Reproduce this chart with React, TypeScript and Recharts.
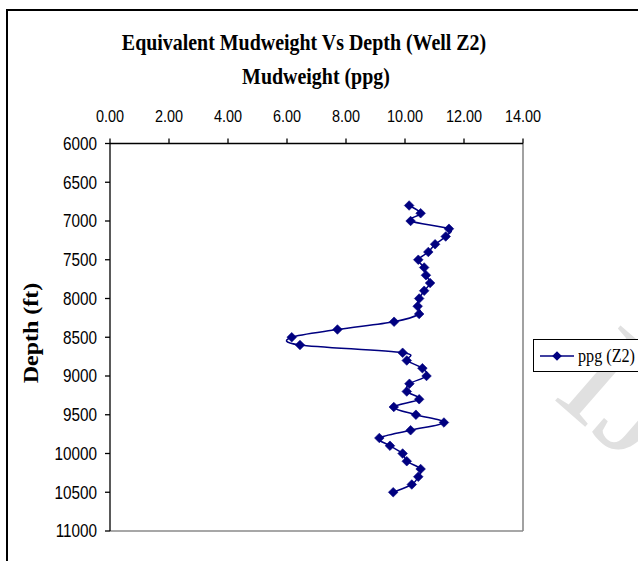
import React from 'react';
import { LineChart, Line, XAxis, YAxis, Legend, ReferenceLine } from 'recharts';

// Depth (ft) of each reading
const depthFt = [
  6800, 6900, 7000, 7100, 7200, 7300, 7400, 7500, 7600, 7700,
  7800, 7900, 8000, 8100, 8200, 8300, 8400, 8500, 8600, 8700,
  8800, 8900, 9000, 9100, 9200, 9300, 9400, 9500, 9600, 9700,
  9800, 9900, 10000, 10100, 10200, 10300, 10400, 10500,
];

// Equivalent mudweight (ppg), well Z2
const mudweightPpg = [
  10.14, 10.53, 10.19, 11.49, 11.38, 11.02, 10.79, 10.45, 10.65, 10.71,
  10.85, 10.65, 10.48, 10.43, 10.48, 9.63, 7.71, 6.16, 6.44, 9.92,
  10.06, 10.59, 10.73, 10.15, 10.06, 10.48, 9.62, 10.37, 11.32, 10.19,
  9.13, 9.49, 9.92, 10.06, 10.53, 10.45, 10.23, 9.6,
];

const mudweightTicks = [0, 2, 4, 6, 8, 10, 12, 14];
const depthTicks = [6000, 6500, 7000, 7500, 8000, 8500, 9000, 9500, 10000, 10500, 11000];

const seriesName = 'ppg (Z2)';
const chartTitle = 'Equivalent Mudweight Vs Depth (Well Z2)';
const xTitle = 'Mudweight (ppg)';
const yTitle = 'Depth (ft)';
const watermark = 'IJSER';

const data = depthFt.map((d, i) => ({ depth: d, ppg: mudweightPpg[i] }));

const NAVY = '#000080';
const SERIF = "'Liberation Serif', 'Times New Roman', serif";
const SANS = "'Liberation Sans', Arial, sans-serif";

// Excel-like smooth curve (Catmull-Rom through points)
function excelSmooth(context: any) {
  let pts: number[][] = [];
  return {
    areaStart() {},
    areaEnd() {},
    lineStart() {
      pts = [];
    },
    lineEnd() {
      if (!pts.length) return;
      context.moveTo(pts[0][0], pts[0][1]);
      for (let i = 0; i < pts.length - 1; i++) {
        const p0 = pts[i - 1] || pts[i];
        const p1 = pts[i];
        const p2 = pts[i + 1];
        const p3 = pts[i + 2] || p2;
        context.bezierCurveTo(
          p1[0] + (p2[0] - p0[0]) / 6,
          p1[1] + (p2[1] - p0[1]) / 6,
          p2[0] - (p3[0] - p1[0]) / 6,
          p2[1] - (p3[1] - p1[1]) / 6,
          p2[0],
          p2[1]
        );
      }
    },
    point(x: number, y: number) {
      pts.push([+x, +y]);
    },
  };
}

const Diamond = (props: any) => {
  const { cx, cy, index } = props;
  if (cx == null || cy == null) return <g key={`d-${index}`} />;
  const r = 4.8;
  return (
    <polygon
      key={`d-${index}`}
      points={`${cx},${cy - r} ${cx + r},${cy} ${cx},${cy + r} ${cx - r},${cy}`}
      fill={NAVY}
      stroke={NAVY}
      strokeWidth={0.6}
    />
  );
};

const XTick = (props: any) => {
  const { x, y, payload } = props;
  return (
    <g transform={`translate(${x},${y})`}>
      <text transform="scale(0.85,1)" textAnchor="middle" fontFamily={SANS} fontSize={17} fill="#000">
        {Number(payload.value).toFixed(2)}
      </text>
    </g>
  );
};

const YTick = (props: any) => {
  const { x, y, payload } = props;
  return (
    <g transform={`translate(${x},${y})`}>
      <text transform="scale(0.85,1)" textAnchor="end" dy="0.355em" fontFamily={SANS} fontSize={18} fill="#000">
        {payload.value}
      </text>
    </g>
  );
};

const LegendBox = () => (
  <div
    style={{
      boxSizing: 'border-box',
      height: 33,
      width: 115,
      border: '1.5px solid #000',
      background: '#fff',
      display: 'flex',
      alignItems: 'center',
      position: 'relative',
    }}
  >
    <svg width={44} height={30} style={{ display: 'block', flex: 'none' }}>
      <line x1={6} y1={15} x2={40} y2={15} stroke={NAVY} strokeWidth={1.5} />
      <polygon points="23,10.2 27.8,15 23,19.8 18.2,15" fill={NAVY} />
    </svg>
    <span
      style={{
        fontFamily: SERIF,
        fontSize: 19,
        color: '#000',
        whiteSpace: 'nowrap',
        display: 'inline-block',
        transform: 'scaleX(0.85)',
        transformOrigin: 'left center',
      }}
    >
      {seriesName}
    </span>
  </div>
);

export default function App() {
  return (
    <div
      style={{
        position: 'fixed',
        left: 6,
        top: 8,
        width: 632,
        height: 553,
        overflow: 'hidden',
        background: '#fff',
      }}
    >
      {/* watermark */}
      <svg width={632} height={553} style={{ position: 'absolute', left: 0, top: 0 }}>
        <text
          x={545}
          y={389}
          transform="rotate(41 545 389)"
          fontFamily={SERIF}
          fontSize={152}
          fill="#e0e0e0"
        >
          {watermark}
        </text>
      </svg>
      <div style={{ position: 'absolute', left: 0, top: 0 }}>
        <LineChart
          layout="vertical"
          width={632}
          height={553}
          data={data}
          margin={{ top: 105.5, right: 115, bottom: 30, left: 40 }}
        >
          <XAxis
            type="number"
            orientation="top"
            domain={[0, 14]}
            ticks={mudweightTicks}
            allowDataOverflow
            height={30}
            tickSize={5}
            tickMargin={17}
            axisLine={{ stroke: '#000', strokeWidth: 1.3 }}
            tickLine={{ stroke: '#000', strokeWidth: 1.3 }}
            tick={<XTick />}
            interval={0}
          />
          <YAxis
            type="number"
            dataKey="depth"
            domain={[6000, 11000]}
            ticks={depthTicks}
            allowDataOverflow
            width={64}
            tickSize={5}
            tickMargin={8}
            axisLine={{ stroke: '#000', strokeWidth: 1.3 }}
            tickLine={{ stroke: '#000', strokeWidth: 1.3 }}
            tick={<YTick />}
            interval={0}
          />
          <ReferenceLine x={14} stroke="#8a8a8a" strokeWidth={1.6} />
          <ReferenceLine y={11000} stroke="#8a8a8a" strokeWidth={1.6} />
          <Line
            dataKey="ppg"
            name={seriesName}
            type={excelSmooth as any}
            stroke={NAVY}
            strokeWidth={1.5}
            dot={Diamond}
            activeDot={false}
            isAnimationActive={false}
          />
          <Legend
            layout="horizontal"
            verticalAlign="middle"
            align="center"
            wrapperStyle={{ left: 527, top: 331, width: 115, height: 33 }}
            content={() => <LegendBox />}
          />
        </LineChart>
      </div>
      {/* outer frame */}
      <div style={{ position: 'absolute', left: 0, top: 1, width: 2, height: 560, background: '#000' }} />
      <div style={{ position: 'absolute', left: 0, top: 1, width: 700, height: 2, background: '#000' }} />
      {/* titles */}
      <div
        style={{
          position: 'absolute',
          left: 298,
          top: 22,
          transform: 'translateX(-50%) scaleX(0.83)',
          fontFamily: SERIF,
          fontWeight: 'bold',
          fontSize: 24,
          lineHeight: '24px',
          whiteSpace: 'nowrap',
          color: '#000',
        }}
      >
        {chartTitle}
      </div>
      <div
        style={{
          position: 'absolute',
          left: 310,
          top: 56,
          transform: 'translateX(-50%) scaleX(0.83)',
          fontFamily: SERIF,
          fontWeight: 'bold',
          fontSize: 24,
          lineHeight: '24px',
          whiteSpace: 'nowrap',
          color: '#000',
        }}
      >
        {xTitle}
      </div>
      <div
        style={{
          position: 'absolute',
          left: 25,
          top: 325,
          transform: 'translate(-50%, -50%) rotate(-90deg) scaleY(0.83)',
          fontFamily: SERIF,
          fontWeight: 'bold',
          fontSize: 24,
          lineHeight: '24px',
          whiteSpace: 'nowrap',
          color: '#000',
        }}
      >
        {yTitle}
      </div>
    </div>
  );
}
